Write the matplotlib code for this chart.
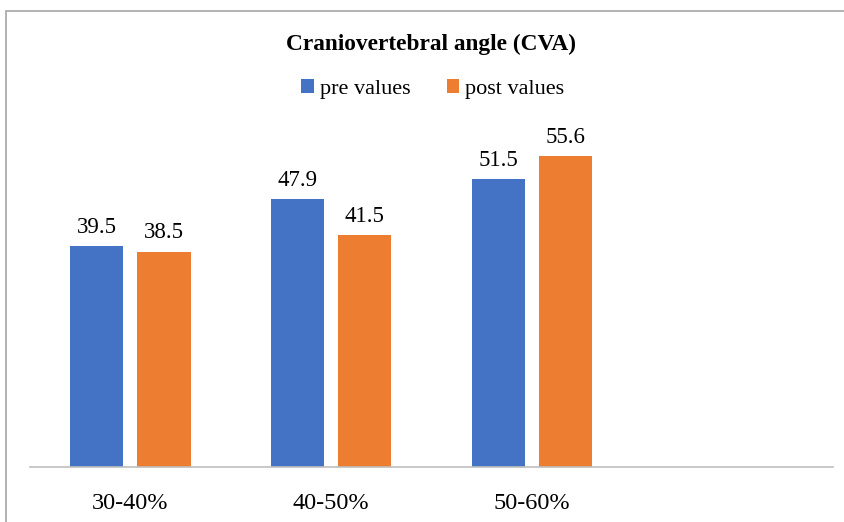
import numpy as np
import matplotlib
matplotlib.use("Agg")
import matplotlib.pyplot as plt
from matplotlib.patches import Rectangle

# ── Data ──────────────────────────────────────────────────────────────────────
categories = ["30-40%", "40-50%", "50-60%", ""]
pre_values = [39.5, 47.9, 51.5]
post_values = [38.5, 41.5, 55.6]

BLUE = "#4472C4"
ORANGE = "#ED7D31"

plt.rcParams["font.family"] = ["Liberation Serif", "DejaVu Serif"]

fig = plt.figure(figsize=(8.44, 5.22), dpi=100)
ax = fig.add_axes([0.0355, 0.1054, 0.9515, 0.6426])

# chart border
fig.patches.append(Rectangle((6 / 844, -0.01), 1.0, 1 - 11 / 522 + 0.01,
                             transform=fig.transFigure, fill=False,
                             edgecolor="#a6a6a6", lw=1.2))

x = np.arange(len(categories))
w = 0.265
off = 0.335 / 2
n = len(pre_values)
b1 = ax.bar(x[:n] - off, pre_values, w, color=BLUE, label="pre values")
b2 = ax.bar(x[:n] + off, post_values, w, color=ORANGE, label="post values")

for bars, vals in [(b1, pre_values), (b2, post_values)]:
    for rect, v in zip(bars, vals):
        ax.annotate(f"{v}", (rect.get_x() + rect.get_width() / 2, v),
                    xytext=(0, 6), textcoords="offset points",
                    ha="center", va="bottom", fontsize=16.5)

ax.set_xlim(-0.5, len(categories) - 0.5)
ax.set_ylim(0, 60)
ax.set_xticks(x)
ax.set_xticklabels(categories, fontsize=17.5)
ax.tick_params(axis="x", length=0, pad=19)
ax.set_yticks([])
for s in ["top", "right", "left"]:
    ax.spines[s].set_visible(False)
ax.spines["bottom"].set_color("#bfbfbf")
ax.spines["bottom"].set_linewidth(1.2)

fig.text(431 / 844, 1 - 44 / 522, "Craniovertebral angle (CVA)", ha="center",
         va="center", fontsize=16.8, fontweight="bold")
fig.legend(handles=[b1, b2], loc="center", bbox_to_anchor=(433 / 844, 1 - 89 / 522),
           ncol=2, frameon=False, fontsize=16, handlelength=0.55,
           handleheight=0.55, handletextpad=0.3, columnspacing=1.6)

plt.savefig("out.png", dpi=100)
plt.close()
